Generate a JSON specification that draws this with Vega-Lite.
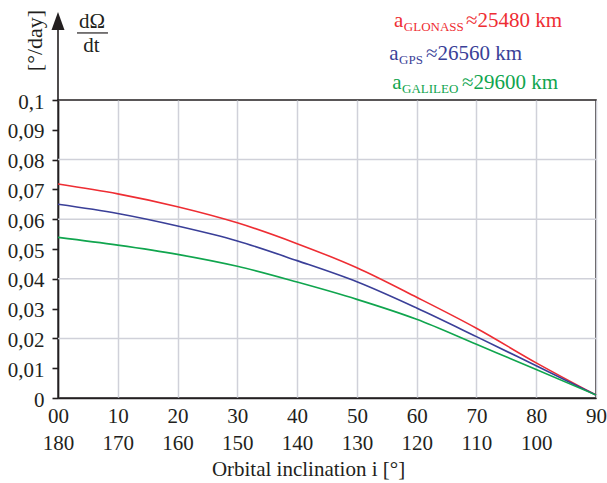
{
  "$schema": "https://vega.github.io/schema/vega-lite/v6.json",
  "width": 538,
  "height": 298,
  "autosize": "none",
  "padding": {"left": 58, "top": 100, "right": 11, "bottom": 85},
  "background": "white",
  "config": {
    "font": "Liberation Serif, Times New Roman, serif",
    "view": {"stroke": "#231f20", "strokeWidth": 1.6},
    "text": {"font": "Liberation Serif, Times New Roman, serif"},
    "axis": {"labelColor": "#231f20", "titleColor": "#231f20", "labelFont": "Liberation Serif, Times New Roman, serif", "titleFont": "Liberation Serif, Times New Roman, serif"},
    "axisY": {"tickCount": 10},
    "axisX": {"tickCount": 9}
  },
  "datasets": {
    "curves": [
      {"sat": "GLONASS", "i": 0, "rate": 0.0718},
      {"sat": "GLONASS", "i": 10, "rate": 0.0685},
      {"sat": "GLONASS", "i": 20, "rate": 0.0642},
      {"sat": "GLONASS", "i": 30, "rate": 0.0588},
      {"sat": "GLONASS", "i": 40, "rate": 0.0518},
      {"sat": "GLONASS", "i": 50, "rate": 0.0437},
      {"sat": "GLONASS", "i": 60, "rate": 0.0338},
      {"sat": "GLONASS", "i": 70, "rate": 0.0234},
      {"sat": "GLONASS", "i": 80, "rate": 0.0118},
      {"sat": "GLONASS", "i": 90, "rate": 0.001},
      {"sat": "GPS", "i": 0, "rate": 0.065},
      {"sat": "GPS", "i": 10, "rate": 0.0619},
      {"sat": "GPS", "i": 20, "rate": 0.0577},
      {"sat": "GPS", "i": 30, "rate": 0.0527},
      {"sat": "GPS", "i": 40, "rate": 0.0461},
      {"sat": "GPS", "i": 50, "rate": 0.039},
      {"sat": "GPS", "i": 60, "rate": 0.0302},
      {"sat": "GPS", "i": 70, "rate": 0.0206},
      {"sat": "GPS", "i": 80, "rate": 0.0108},
      {"sat": "GPS", "i": 90, "rate": 0.001},
      {"sat": "GALILEO", "i": 0, "rate": 0.0539},
      {"sat": "GALILEO", "i": 10, "rate": 0.0513},
      {"sat": "GALILEO", "i": 20, "rate": 0.0482},
      {"sat": "GALILEO", "i": 30, "rate": 0.0442},
      {"sat": "GALILEO", "i": 40, "rate": 0.0389},
      {"sat": "GALILEO", "i": 50, "rate": 0.0331},
      {"sat": "GALILEO", "i": 60, "rate": 0.0264},
      {"sat": "GALILEO", "i": 70, "rate": 0.018},
      {"sat": "GALILEO", "i": 80, "rate": 0.0096},
      {"sat": "GALILEO", "i": 90, "rate": 0.001}
    ],
    "hgrid": [
      {"g": 0.02}, {"g": 0.04}, {"g": 0.06}, {"g": 0.08}
    ]
  },
  "layer": [
    {
      "data": {"name": "hgrid"},
      "mark": {"type": "rule", "color": "#d0d1d9", "strokeWidth": 1.5},
      "encoding": {"y": {"field": "g", "type": "quantitative"}}
    },
    {
      "data": {"name": "curves"},
      "mark": {"type": "line", "interpolate": "monotone", "strokeWidth": 1.6},
      "encoding": {
        "x": {
          "field": "i", "type": "quantitative",
          "scale": {"domain": [0, 90], "nice": false, "zero": false},
          "axis": {
            "tickCount": 9,
            "grid": true, "gridColor": "#d0d1d9", "gridWidth": 1.5,
            "ticks": false,
            "domain": true, "domainColor": "#231f20", "domainWidth": 1.6,
            "labelFontSize": 21, "labelPadding": 7, "labelAngle": 0,
            "labelAlign": "center", "labelBaseline": "top",
            "labelFlush": false, "labelOverlap": false, "labelLineHeight": 27,
            "labelExpr": "datum.value == 0 ? ['00', '180'] : datum.value == 90 ? ['90', ''] : [format(datum.value, 'd'), format(180 - datum.value, 'd')]",
            "title": "Orbital inclination i [°]",
            "titleFontSize": 21, "titleFontWeight": "normal",
            "titleX": 250, "titleY": 77, "titleAlign": "center", "titleBaseline": "alphabetic"
          }
        },
        "y": {
          "field": "rate", "type": "quantitative",
          "scale": {"domain": [0, 0.1], "nice": false},
          "axis": {
            "tickCount": 10,
            "grid": false,
            "ticks": true, "tickSize": 6, "tickColor": "#231f20", "tickWidth": 1.6,
            "domain": true, "domainColor": "#231f20", "domainWidth": 1.6,
            "labelFontSize": 21, "labelPadding": 8, "labelBaseline": "middle", "labelOffset": 2,
            "labelOverlap": false, "labelFlush": false, "labelBound": false,
            "labelExpr": "datum.value == 0 ? '0' : replace(format(datum.value, '.2~f'), '.', ',')",
            "title": "[°/day]",
            "titleFontSize": 22, "titleFontWeight": "normal", "titleAngle": -90,
            "titleX": -24, "titleY": -60, "titleAlign": "center", "titleBaseline": "middle"
          }
        },
        "color": {
          "field": "sat", "type": "nominal",
          "scale": {"domain": ["GLONASS", "GPS", "GALILEO"], "range": ["#ee2d33", "#3a3f98", "#10a54e"]},
          "legend": null
        }
      }
    },
    {
      "data": {"values": [{}]},
      "mark": {"type": "rule", "color": "#231f20", "strokeWidth": 1.6},
      "encoding": {"x": {"datum": 0}, "y": {"datum": 0.1}, "y2": {"datum": 0.1235}}
    },
    {
      "data": {"values": [{}]},
      "mark": {"type": "point", "shape": "M0,-1L0.72,1L-0.72,1Z", "size": 324, "filled": true, "fill": "#231f20", "strokeWidth": 0, "opacity": 1},
      "encoding": {"x": {"datum": 0}, "y": {"datum": 0.1265}}
    },
    {
      "data": {"values": [{}]},
      "mark": {"type": "rule", "color": "#231f20", "strokeWidth": 1.2},
      "encoding": {"x": {"datum": 3.18}, "x2": {"datum": 8.36}, "y": {"datum": 0.1225}}
    },
    {
      "data": {"values": [{}]},
      "mark": {"type": "text", "text": "dΩ", "fontSize": 21, "align": "center", "baseline": "alphabetic", "color": "#231f20"},
      "encoding": {"x": {"datum": 5.69}, "y": {"datum": 0.1242}}
    },
    {
      "data": {"values": [{}]},
      "mark": {"type": "text", "text": "dt", "fontSize": 21, "align": "center", "baseline": "alphabetic", "color": "#231f20"},
      "encoding": {"x": {"datum": 5.6}, "y": {"datum": 0.1161}}
    },
    {
      "data": {"values": [{}]},
      "mark": {"type": "text", "text": "a", "fontSize": 21, "align": "left", "baseline": "alphabetic", "color": "#ee2d33"},
      "encoding": {"x": {"datum": 56.2}, "y": {"datum": 0.1245}}
    },
    {
      "data": {"values": [{}]},
      "mark": {"type": "text", "text": "GLONASS", "fontSize": 13, "align": "left", "baseline": "alphabetic", "color": "#ee2d33"},
      "encoding": {"x": {"datum": 57.85}, "y": {"datum": 0.1232}}
    },
    {
      "data": {"values": [{}]},
      "mark": {"type": "text", "text": "≈25480 km", "fontSize": 21, "align": "left", "baseline": "alphabetic", "color": "#ee2d33"},
      "encoding": {"x": {"datum": 68.25}, "y": {"datum": 0.1245}}
    },
    {
      "data": {"values": [{}]},
      "mark": {"type": "text", "text": "a", "fontSize": 21, "align": "left", "baseline": "alphabetic", "color": "#3a3f98"},
      "encoding": {"x": {"datum": 55.4}, "y": {"datum": 0.1134}}
    },
    {
      "data": {"values": [{}]},
      "mark": {"type": "text", "text": "GPS", "fontSize": 13, "align": "left", "baseline": "alphabetic", "color": "#3a3f98"},
      "encoding": {"x": {"datum": 57.05}, "y": {"datum": 0.1121}}
    },
    {
      "data": {"values": [{}]},
      "mark": {"type": "text", "text": "≈26560 km", "fontSize": 21, "align": "left", "baseline": "alphabetic", "color": "#3a3f98"},
      "encoding": {"x": {"datum": 61.55}, "y": {"datum": 0.1134}}
    },
    {
      "data": {"values": [{}]},
      "mark": {"type": "text", "text": "a", "fontSize": 21, "align": "left", "baseline": "alphabetic", "color": "#10a54e"},
      "encoding": {"x": {"datum": 55.9}, "y": {"datum": 0.1037}}
    },
    {
      "data": {"values": [{}]},
      "mark": {"type": "text", "text": "GALILEO", "fontSize": 13, "align": "left", "baseline": "alphabetic", "color": "#10a54e"},
      "encoding": {"x": {"datum": 57.55}, "y": {"datum": 0.1023}}
    },
    {
      "data": {"values": [{}]},
      "mark": {"type": "text", "text": "≈29600 km", "fontSize": 21, "align": "left", "baseline": "alphabetic", "color": "#10a54e"},
      "encoding": {"x": {"datum": 67.58}, "y": {"datum": 0.1037}}
    }
  ]
}
